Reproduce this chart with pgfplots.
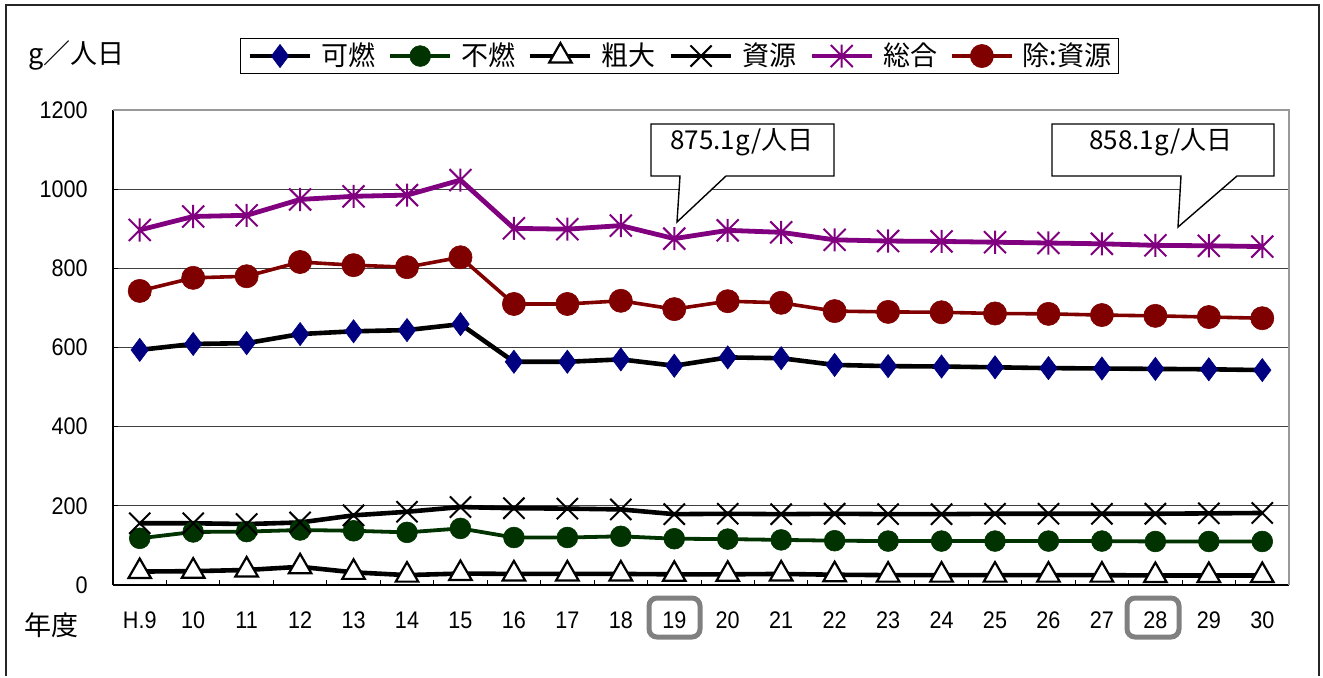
\documentclass[border=0pt]{standalone}
\usepackage{pgfplots}
\usepackage{pgfplotstable}
\pgfplotsset{compat=1.18}
\usepackage{fontspec}
\setmainfont{Liberation Sans}
\newfontfamily\numfont{Liberation Sans}[FakeStretch=0.9]
\newfontfamily\jp{Noto Sans CJK JP}

\definecolor{navyd}{RGB}{0,0,128}
\definecolor{greend}{RGB}{0,51,0}
\definecolor{purp}{RGB}{128,0,128}
\definecolor{maroonc}{RGB}{128,0,0}
\definecolor{hlgray}{RGB}{128,128,128}

% cross mark and eight-armed star (cross plus vertical bar)
\pgfdeclareplotmark{bigx}{%
  \pgfpathmoveto{\pgfqpoint{-\pgfplotmarksize}{-\pgfplotmarksize}}%
  \pgfpathlineto{\pgfqpoint{\pgfplotmarksize}{\pgfplotmarksize}}%
  \pgfpathmoveto{\pgfqpoint{-\pgfplotmarksize}{\pgfplotmarksize}}%
  \pgfpathlineto{\pgfqpoint{\pgfplotmarksize}{-\pgfplotmarksize}}%
  \pgfusepathqstroke}
\pgfdeclareplotmark{xstar}{%
  \pgfpathmoveto{\pgfqpoint{-\pgfplotmarksize}{-\pgfplotmarksize}}%
  \pgfpathlineto{\pgfqpoint{\pgfplotmarksize}{\pgfplotmarksize}}%
  \pgfpathmoveto{\pgfqpoint{-\pgfplotmarksize}{\pgfplotmarksize}}%
  \pgfpathlineto{\pgfqpoint{\pgfplotmarksize}{-\pgfplotmarksize}}%
  \pgfpathmoveto{\pgfqpoint{0pt}{-1.05\pgfplotmarksize}}%
  \pgfpathlineto{\pgfqpoint{0pt}{1.05\pgfplotmarksize}}%
  \pgfusepathqstroke}

% g/person/day by fiscal year (H.9 ... H.30)
\pgfplotstableread{
x kanen funen sodai shigen sogo jogai
0  594 118 34 156 897   743
1  609 134 35 156 931   776
2  611 135 38 154 934   780
3  634 139 46 158 974   816
4  641 137 32 176 982   808
5  644 133 25 185 985   803
6  659 143 29 197 1023  828
7  564 120 28 194 901   710
8  564 120 28 193 899   710
9  570 123 28 191 908   718
10 554 117 27 179 875.1 697
11 575 116 27 180 896   717
12 573 114 28 179 891   713
13 556 112 26 180 872   692
14 553 111 25 179 869   690
15 552 111 25 179 868   689
16 550 111 25 180 866   686
17 548 111 25 180 864   685
18 547 111 25 180 862   682
19 546 110 24 180 858.1 680
20 545 110 24 181 857   677
21 543 110 24 182 855   674
}\wastedata

\begin{document}
\begin{tikzpicture}
% canvas in pixel units (1px = 0.5pt), y pointing down
\begin{scope}[x=0.5pt,y=-0.5pt]
  \fill[white] (0,0) rectangle (1323,676);
  \draw[black!85, line width=1pt] (6,676) -- (6,5) -- (1319,5) -- (1319,676);
\end{scope}

\begin{axis}[
  at={(56.5pt,-292.5pt)}, anchor=south west,
  scale only axis, width=588pt, height=237.5pt,
  xmin=-0.5, xmax=21.5, ymin=0, ymax=1200,
  axis x line*=bottom, axis y line*=left,
  axis line style={-, black, line width=0.9pt},
  xtick={0,...,21},
  xticklabels={H.9,10,11,12,13,14,15,16,17,18,19,20,21,22,23,24,25,26,27,28,29,30},
  major x tick style={draw=none},
  minor xtick={0.5,1.5,...,20.5},
  minor tick length=2.5pt, major tick length=2.5pt,
  tick align=inside,
  tick style={black, line width=0.5pt},
  ytick={0,200,...,1200},
  ymajorgrids, grid style={black!75, line width=0.5pt},
  every tick label/.append style={inner sep=0pt, font=\numfont\fontsize{12}{12}\selectfont},
  yticklabel style={xshift=-12.5pt},
  xticklabel style={anchor=base, yshift=-21.5pt},
  /pgf/number format/assume math mode=true,
  /pgf/number format/1000 sep={},
  clip=false,
  legend columns=-1,
  legend style={
    at={(0.4817,1.1137)}, anchor=center,
    draw=black, line width=0.5pt,
    font=\jp\fontsize{13.5}{14}\selectfont,
    inner xsep=3.5pt, inner ysep=2.5pt,
    nodes={inner sep=0pt},
    /tikz/every odd column/.style={column sep=4.5pt},
    /tikz/every even column/.style={column sep=6.5pt},
  },
  legend image code/.code={
    \draw[mark repeat=2,mark phase=2,#1] plot coordinates {(0pt,0pt) (15pt,0pt) (30pt,0pt)};
  },
]
% plot frame: top and right edges in grey
\draw[black!40, line width=1pt] (rel axis cs:0,1) -- (rel axis cs:1,1) -- (rel axis cs:1,0);

\addplot[black, line width=2.3pt, mark=diamond*, mark size=5.8pt,
  mark options={solid, fill=navyd, draw=navyd, line width=0.3pt}]
  table[x=x, y=kanen] {\wastedata};
\addlegendentry{可燃}

\addplot[greend, line width=1.9pt, mark=*, mark size=5.2pt,
  mark options={solid, fill=greend, draw=greend, line width=0.3pt}]
  table[x=x, y=funen] {\wastedata};
\addlegendentry{不燃}

\addplot[black, line width=2.3pt, mark=triangle*, mark size=6.5pt,
  mark options={solid, fill=white, draw=black, line width=1.1pt}]
  table[x=x, y=sodai] {\wastedata};
\addlegendentry{粗大}

\addplot[black, line width=2.3pt, mark=bigx, mark size=5.3pt,
  mark options={solid, draw=black, line width=1pt}]
  table[x=x, y=shigen] {\wastedata};
\addlegendentry{資源}

\addplot[purp, line width=2.4pt, mark=xstar, mark size=5.5pt,
  mark options={solid, draw=purp, line width=1pt}]
  table[x=x, y=sogo] {\wastedata};
\addlegendentry{総合}

\addplot[maroonc, line width=1.8pt, mark=*, mark size=5.8pt,
  mark options={solid, fill=maroonc, draw=maroonc, line width=0.3pt}]
  table[x=x, y=jogai] {\wastedata};
\addlegendentry{除:資源}
\end{axis}

\begin{scope}[x=0.5pt,y=-0.5pt]
  % unit and category captions
  \node[anchor=west, inner sep=0pt, font=\jp\fontsize{13.5}{14}\selectfont] at (28,55) {g／人日};
  \node[inner sep=0pt, font=\jp\fontsize{13.5}{14}\selectfont] at (52,625) {年度};
  % years singled out on the category axis
  \draw[hlgray, line width=2.5pt, rounded corners=4pt] (649,598) rectangle (700,637);
  \draw[hlgray, line width=2.5pt, rounded corners=4pt] (1127,598) rectangle (1179,637);
  % callouts for the two highlighted totals
  \draw[black, line width=0.7pt, fill=white]
    (651,124) -- (834,124) -- (834,176) -- (726,176) -- (677,222) -- (680,176) -- (651,176) -- cycle;
  \node[inner sep=0pt, font=\jp\fontsize{13}{14}\selectfont] at (742,142) {875.1g/人日};
  \draw[black, line width=0.7pt, fill=white]
    (1052,124) -- (1274,124) -- (1274,176) -- (1237,176) -- (1178,227) -- (1181,176) -- (1052,176) -- cycle;
  \node[inner sep=0pt, font=\jp\fontsize{13}{14}\selectfont] at (1161,142) {858.1g/人日};
  % fixed canvas size
  \path (0,0) rectangle (1323,676);
\end{scope}
\end{tikzpicture}
\end{document}
